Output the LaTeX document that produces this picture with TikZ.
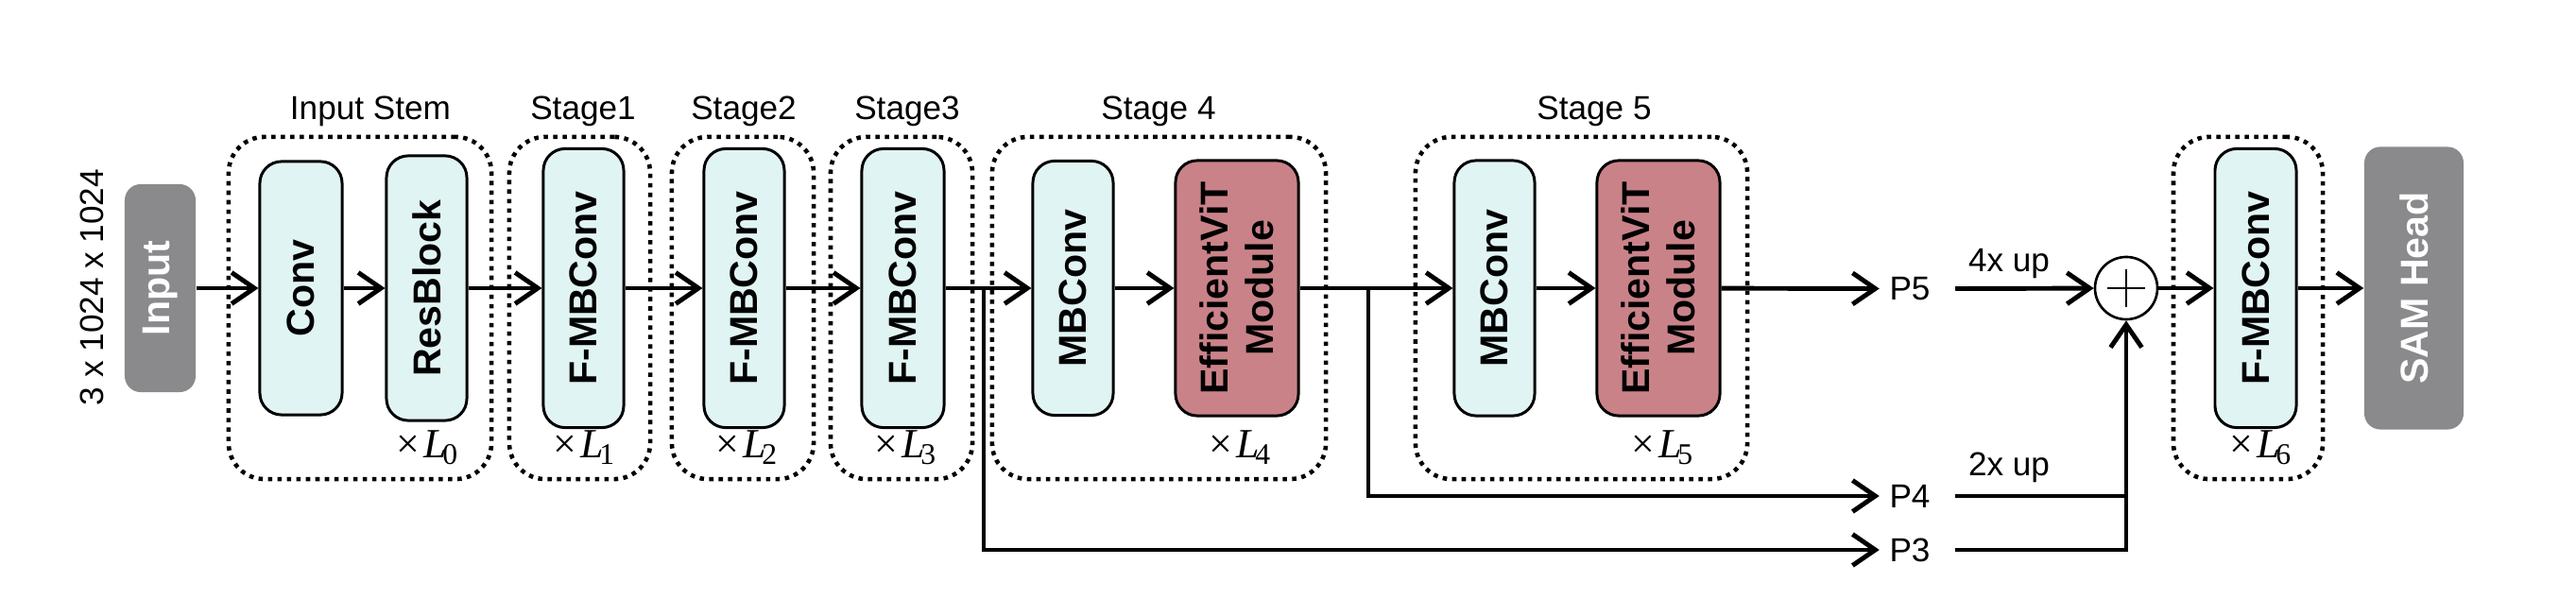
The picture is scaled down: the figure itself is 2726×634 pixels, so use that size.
\documentclass[tikz,border=0pt]{standalone}
\usepackage{fontspec}
\setmainfont{Liberation Sans}
\newfontfamily\tmsfont{Liberation Serif}
\usetikzlibrary{arrows.meta,calc}
\definecolor{cyanfill}{RGB}{225,244,244}
\definecolor{rosefill}{RGB}{202,130,137}
\definecolor{grayfill}{RGB}{138,138,140}
\newcommand{\rep}[1]{{\tmsfont ×\kern0.08em\textit{L}\kern-0.1em\raisebox{-0.32ex}{\fontsize{9}{10}\selectfont #1}}}
\begin{document}
\begin{tikzpicture}[x=0.01cm, y=-0.01cm,
  blk/.style={draw, line width=0.85pt, rounded corners=0.23cm, inner sep=0pt},
  cyanblk/.style={blk, fill=cyanfill},
  roseblk/.style={blk, fill=rosefill},
  grayblk/.style={fill=grayfill, rounded corners=0.17cm, inner sep=0pt},
  dotbox/.style={draw, line width=1.3pt, dash pattern=on 1.3pt off 1.55pt, rounded corners=0.38cm, inner sep=0pt, minimum height=3.62cm},
  btxt/.style={rotate=90, font=\fontsize{11.7}{13.6}\selectfont\bfseries, align=center, inner sep=0pt},
  wtxt/.style={btxt, text=white},
  lbl/.style={font=\fontsize{10}{12}\selectfont, inner sep=0pt},
  plbl/.style={font=\fontsize{10}{12}\selectfont, inner sep=0.1cm},
  mult/.style={font=\fontsize{12.5}{14}\selectfont, inner sep=0pt},
  arr/.style={line width=1.4pt, -{Straight Barb[length=2.4mm,width=3.3mm]}},
  ln/.style={line width=1.4pt},
]
\useasboundingbox (0,0) rectangle (2726,634);

% dotted stage boxes
\node[dotbox, minimum width=2.78cm] (s0) at (381,326) {};
\node[dotbox, minimum width=1.49cm] (s1) at (613.5,326) {};
\node[dotbox, minimum width=1.50cm] (s2) at (786,326) {};
\node[dotbox, minimum width=1.50cm] (s3) at (954,326) {};
\node[dotbox, minimum width=3.53cm] (s4) at (1226.5,326) {};
\node[dotbox, minimum width=3.51cm] (s5) at (1673.5,326) {};
\node[dotbox, minimum width=1.58cm] (s6) at (2379,326) {};

% stage labels
\node[lbl, anchor=base] (l0) at (392,127) {Input Stem};
\node[lbl, anchor=base] (l1) at (617,127) {Stage1};
\node[lbl, anchor=base] (l2) at (787,127) {Stage2};
\node[lbl, anchor=base] (l3) at (960,127) {Stage3};
\node[lbl, anchor=base] (l4) at (1226,127) {Stage 4};
\node[lbl, anchor=base] (l5) at (1687,127) {Stage 5};

% input
\node[lbl, rotate=90] (dim) at (97,304) {3 x 1024 x 1024};
\node[grayblk, minimum width=0.75cm, minimum height=2.20cm, label={[wtxt]center:Input}] (inp) at (169.5,305) {};

% blocks
\node[cyanblk, minimum width=0.87cm, minimum height=2.68cm, label={[btxt]center:Conv}] (conv) at (318.5,305) {};
\node[cyanblk, minimum width=0.85cm, minimum height=2.80cm, label={[btxt]center:ResBlock}] (res) at (451.5,305) {};
\node[cyanblk, minimum width=0.85cm, minimum height=2.95cm, label={[btxt]center:F-MBConv}] (fm1) at (617.5,305) {};
\node[cyanblk, minimum width=0.85cm, minimum height=2.95cm, label={[btxt]center:F-MBConv}] (fm2) at (787.5,305) {};
\node[cyanblk, minimum width=0.87cm, minimum height=2.95cm, label={[btxt]center:F-MBConv}] (fm3) at (955.5,305) {};
\node[cyanblk, minimum width=0.85cm, minimum height=2.69cm, label={[btxt]center:MBConv}] (mb4) at (1135.5,305) {};
\node[roseblk, minimum width=1.30cm, minimum height=2.70cm, label={[btxt]center:EfficientViT\\Module}] (ev4) at (1309,305) {};
\node[cyanblk, minimum width=0.85cm, minimum height=2.70cm, label={[btxt]center:MBConv}] (mb5) at (1581.5,305) {};
\node[roseblk, minimum width=1.30cm, minimum height=2.70cm, label={[btxt]center:EfficientViT\\Module}] (ev5) at (1755,305) {};
\node[cyanblk, minimum width=0.86cm, minimum height=2.95cm, label={[btxt]center:F-MBConv}] (fm6) at (2387,305) {};
\node[grayblk, minimum width=1.05cm, minimum height=2.99cm, label={[wtxt]center:SAM Head}] (sam) at (2554.5,305) {};

% repeat labels
\node[mult, anchor=base] (m0) at (452,485) {\rep{0}};
\node[mult, anchor=base] (m1) at (618,485) {\rep{1}};
\node[mult, anchor=base] (m2) at (790,485) {\rep{2}};
\node[mult, anchor=base] (m3) at (958,485) {\rep{3}};
\node[mult, anchor=base] (m4) at (1312,485) {\rep{4}};
\node[mult, anchor=base] (m5) at (1759,485) {\rep{5}};
\node[mult, anchor=base] (m6) at (2392,485) {\rep{6}};

% pyramid labels
\node[plbl] (p5) at (2021,305.5) {P5};
\node[plbl] (p4) at (2021,525) {P4};
\node[plbl] (p3) at (2021,582) {P3};
\node[lbl, anchor=base] (u4) at (2126,288) {4x up};
\node[lbl, anchor=base] (u2) at (2126,504) {2x up};

% sum
\node[draw, circle, line width=0.75pt, minimum size=0.66cm, inner sep=0pt,
  path picture={
    \draw[line width=0.6pt] ([xshift=-0.2cm]path picture bounding box.center) -- ([xshift=0.2cm]path picture bounding box.center);
    \draw[line width=0.6pt] ([yshift=-0.2cm]path picture bounding box.center) -- ([yshift=0.2cm]path picture bounding box.center);
  }] (sum) at (2250,305) {};

\coordinate (b3) at (1041,305);
\coordinate (b4) at (1448,305);

% main flow
\draw[arr] (inp) -- (conv);
\draw[arr] (conv) -- (res);
\draw[arr] (res) -- (fm1);
\draw[arr] (fm1) -- (fm2);
\draw[arr] (fm2) -- (fm3);
\draw[arr] (fm3) -- (mb4);
\draw[arr] (mb4) -- (ev4);
\draw[arr] (ev4) -- (mb5);
\draw[arr] (mb5) -- (ev5);
\draw[arr] (ev5) -- (p5.west);
\draw[arr] (b3) |- (p3.west);
\draw[arr] (b4) |- (p4.west);

% neck
\draw[arr] ([xshift=0.16cm]p5.east) -- (sum);
\draw[ln] ([xshift=0.16cm]p4.east) -- (sum |- p4);
\draw[arr] ([xshift=0.16cm]p3.east) -- (sum |- p3) -- (sum);
\draw[arr] (sum) -- (fm6);
\draw[arr] (fm6) -- (sam);
\end{tikzpicture}
\end{document}
